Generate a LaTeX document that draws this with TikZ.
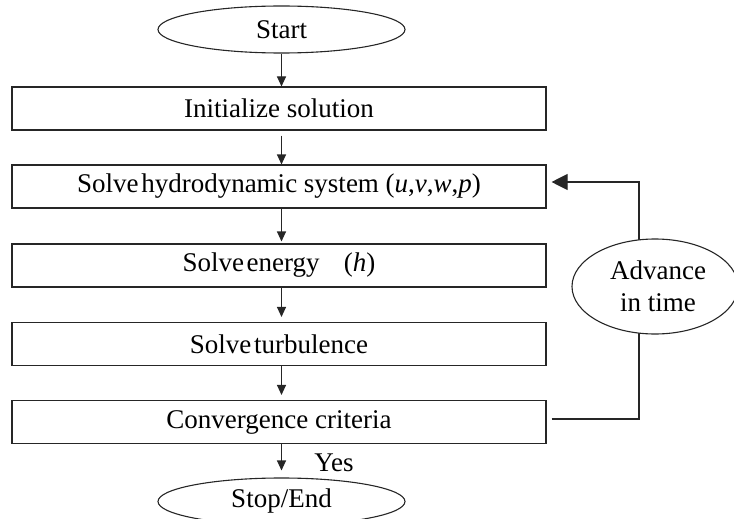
\documentclass[tikz,border=0pt]{standalone}
\usepackage{fontspec}
\setmainfont{Liberation Serif}
\usetikzlibrary{shapes.geometric,arrows.meta}
\begin{document}
\begin{tikzpicture}[x=1pt,y=-1pt,
  every node/.style={font=\fontsize{27pt}{32pt}\selectfont},
  stepbox/.style={draw=black!85, line width=1.1pt, minimum width=534pt, minimum height=43pt, inner sep=0pt},
  termnode/.style={draw=black!85, line width=1.1pt, ellipse, minimum width=247pt, minimum height=47pt, inner sep=0pt},
  flow/.style={draw=black!85, line width=1.1pt, -{Triangle[length=10pt,width=9pt]}},
  back/.style={draw=black!85, line width=1.1pt, -{Triangle[length=16pt,width=16pt]}}]
\useasboundingbox (0,0) rectangle (734,519);
\node[termnode] (start) at (281.5,29.5) {\raisebox{-3pt}{Start}};
\node[stepbox] (init) at (279,108.5) {Initialize solution};
\node[stepbox] (hydro) at (279,186.5) {Solve\hspace{0.1em}hydrodynamic system (\textit{u},\textit{v},\textit{w},\textit{p})};
\node[stepbox] (energy) at (279,265.5) {Solve\hspace{0.1em}energy\hspace{0.9em}(\textit{h})};
\node[stepbox] (turb) at (279,344) {Solve\hspace{0.1em}turbulence};
\node[stepbox] (conv) at (279,422) {Convergence criteria};
\node[termnode] (stop) at (281.5,501.5) {Stop/End};
\node (yes) at (334,463) {Yes};
\coordinate (turnB) at (639,419);
\coordinate (turnT) at (639,182);
\draw[back] ([xshift=5pt,yshift=3pt]conv.east) -- (turnB) -- (turnT) -- ([xshift=5pt]hydro.east |- turnT);
\node[draw=black!85, line width=1.1pt, ellipse, fill=white, minimum width=166pt, minimum height=95pt, inner sep=0pt, align=center] (adv) at (655,286.5) {\hspace{6pt}Advance\\\hspace{6pt}in time};
\draw[flow] (start.south) -- (start.south |- init.north);
\draw[flow, shorten <=5pt] (init.south -| start.south) -- (start.south |- hydro.north);
\draw[flow, shorten >=2pt] (hydro.south -| start.south) -- (start.south |- energy.north);
\draw[flow, shorten >=5pt] (energy.south -| start.south) -- (start.south |- turb.north);
\draw[flow, shorten >=5pt] (turb.south -| start.south) -- (start.south |- conv.north);
\draw[flow, shorten >=7pt] (conv.south -| start.south) -- (stop.north);
\end{tikzpicture}
\end{document}
